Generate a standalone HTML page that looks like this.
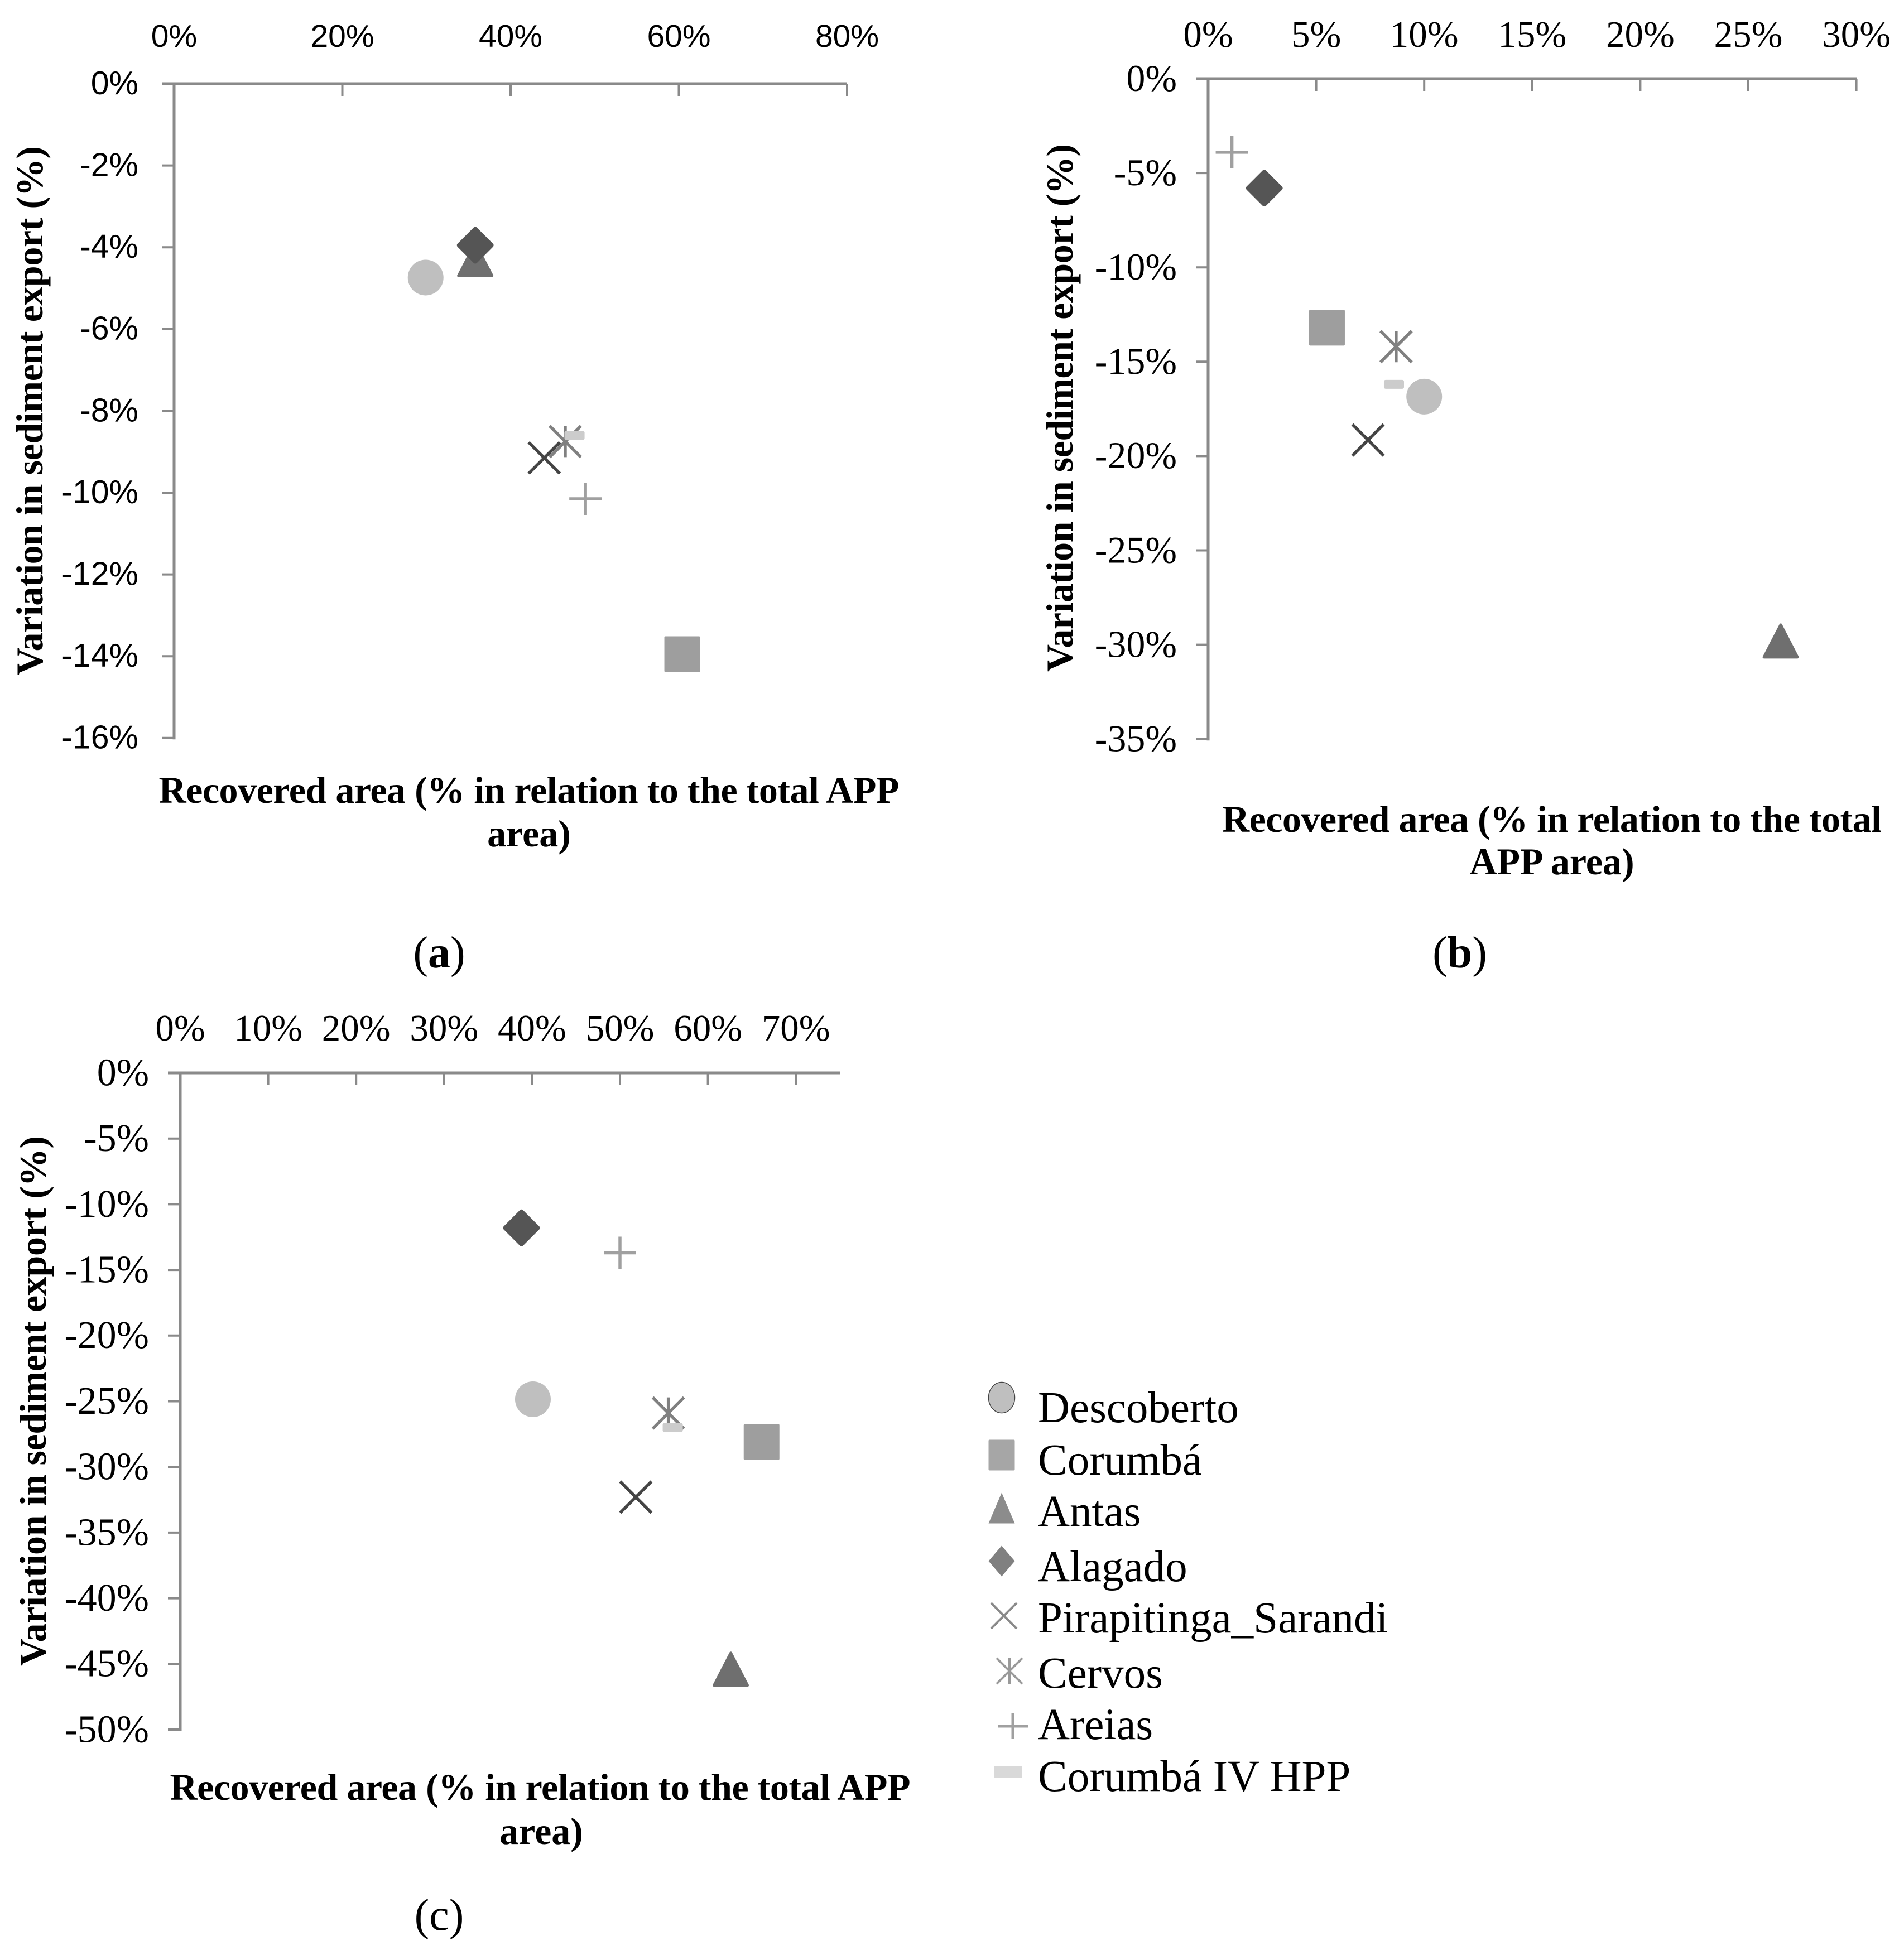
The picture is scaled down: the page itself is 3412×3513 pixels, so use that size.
<!DOCTYPE html>
<html lang="en">
<head>
<meta charset="utf-8">
<title>Recovered area vs. variation in sediment export</title>
<style>
html,body{margin:0;padding:0;background:#fff;}
svg{display:block;}
.ser{font-family:"Liberation Serif",serif;fill:#000;}
.san{font-family:"Liberation Sans",sans-serif;fill:#000;}
.title{font-family:"Liberation Serif",serif;font-weight:bold;font-size:68px;fill:#000;}
.cap{font-family:"Liberation Serif",serif;font-size:80px;fill:#000;}
.leg{font-family:"Liberation Serif",serif;font-size:79px;fill:#000;}
</style>
</head>
<body>
<svg id="figure" xmlns="http://www.w3.org/2000/svg" width="3412" height="3513" viewBox="0 0 3412 3513">
<rect width="3412" height="3513" fill="#ffffff"/>
<g id="panel-a"></g>
<g id="panel-b"></g>
<g id="panel-c"></g>

<text class="title" transform="translate(76,736) rotate(-90)" text-anchor="middle" textLength="948" lengthAdjust="spacing">Variation in sediment export (%)</text>
<text class="title" x="948" y="1439" text-anchor="middle" textLength="1327" lengthAdjust="spacing">Recovered area (% in relation to the total APP</text>
<text class="title" x="948" y="1517" text-anchor="middle">area)</text>
<text class="cap" x="787" y="1734" text-anchor="middle">(<tspan font-weight="bold">a</tspan>)</text>

<text class="title" transform="translate(1922,731) rotate(-90)" text-anchor="middle" textLength="946" lengthAdjust="spacing">Variation in sediment export (%)</text>
<text class="title" x="2781" y="1491" text-anchor="middle" textLength="1182" lengthAdjust="spacing">Recovered area (% in relation to the total</text>
<text class="title" x="2781" y="1567" text-anchor="middle">APP area)</text>
<text class="cap" x="2616" y="1734" text-anchor="middle">(<tspan font-weight="bold">b</tspan>)</text>

<text class="title" transform="translate(82,2511) rotate(-90)" text-anchor="middle" textLength="950" lengthAdjust="spacing">Variation in sediment export (%)</text>
<text class="title" x="968" y="3226" text-anchor="middle" textLength="1327" lengthAdjust="spacing">Recovered area (% in relation to the total APP</text>
<text class="title" x="970" y="3305" text-anchor="middle">area)</text>
<text class="cap" x="787" y="3459" text-anchor="middle">(c)</text>

<g id="legend"></g>
</svg>

<script>
// ---- data ----
const seriesNames = ['Descoberto', 'Corumbá', 'Antas', 'Alagado', 'Pirapitinga_Sarandi', 'Cervos', 'Areias', 'Corumbá IV HPP'];

const panelAX = [29.9, 60.4, 35.8, 35.8, 44.0, 46.5, 48.9, 47.6];
const panelAY = [-4.74, -13.95, -4.3, -3.95, -9.15, -8.75, -10.15, -8.6];
const panelAXTicks = [0, 20, 40, 60, 80];
const panelAYTicks = [0, -2, -4, -6, -8, -10, -12, -14, -16];

const panelBX = [10.0, 5.5, 26.5, 2.6, 7.4, 8.7, 1.1, 8.6];
const panelBY = [-16.85, -13.2, -29.8, -5.8, -19.15, -14.2, -3.9, -16.2];
const panelBXTicks = [0, 5, 10, 15, 20, 25, 30];
const panelBYTicks = [0, -5, -10, -15, -20, -25, -30, -35];

const panelCX = [40.1, 66.1, 62.6, 38.8, 51.8, 55.5, 50.0, 56.0];
const panelCY = [-24.85, -28.1, -45.4, -11.8, -32.3, -25.9, -13.7, -27.0];
const panelCXTicks = [0, 10, 20, 30, 40, 50, 60, 70];
const panelCYTicks = [0, -5, -10, -15, -20, -25, -30, -35, -40, -45, -50];

// ---- helpers ----
const NS = 'http://www.w3.org/2000/svg';
function slug(s) {
  return s.toLowerCase().normalize('NFD').replace(/[\u0300-\u036f]/g, '').replace(/[^a-z0-9]+/g, '-');
}
function shape(parent, tag, attrs) {
  const el = document.createElementNS(NS, tag);
  for (const k in attrs) el.setAttribute(k, attrs[k]);
  parent.appendChild(el);
  return el;
}
function seg(parent, x1, y1, x2, y2, stroke, w) {
  return shape(parent, 'line', { x1: x1, y1: y1, x2: x2, y2: y2, stroke: stroke, 'stroke-width': w });
}
const dataStyle = {
  circle: '#bfbfbf', square: '#9e9e9e', triangle: '#6f6f6f', diamond: '#555555',
  cross: '#444444', star: '#808080', plus: '#a0a0a0', dash: '#cccccc'
};
const kinds = ['circle', 'square', 'triangle', 'diamond', 'cross', 'star', 'plus', 'dash'];

function drawMarker(g, kind, cx, cy, s) {
  const c = s.colors[kind];
  const w = s.w, h = s.h, r = w / 2, v = h / 2;
  if (kind === 'circle') {
    const e = shape(g, 'ellipse', { cx: cx, cy: cy, rx: r, ry: v, fill: c });
    if (s.outline) { e.setAttribute('stroke', '#444444'); e.setAttribute('stroke-width', 1.5); }
  } else if (kind === 'square') {
    shape(g, 'rect', { x: cx - r, y: cy - v, width: w, height: h, fill: c, rx: 2 });
  } else if (kind === 'triangle') {
    shape(g, 'polygon', { points: (cx) + ',' + (cy - v) + ' ' + (cx + r) + ',' + (cy + v) + ' ' + (cx - r) + ',' + (cy + v), fill: c, stroke: c, 'stroke-width': s.round || 0, 'stroke-linejoin': 'round' });
  } else if (kind === 'diamond') {
    shape(g, 'polygon', { points: (cx) + ',' + (cy - v) + ' ' + (cx + r) + ',' + (cy) + ' ' + (cx) + ',' + (cy + v) + ' ' + (cx - r) + ',' + (cy), fill: c, stroke: c, 'stroke-width': s.round || 0, 'stroke-linejoin': 'round' });
  } else if (kind === 'cross') {
    seg(g, cx - r, cy - v, cx + r, cy + v, c, s.line);
    seg(g, cx - r, cy + v, cx + r, cy - v, c, s.line);
  } else if (kind === 'star') {
    seg(g, cx - r, cy - v, cx + r, cy + v, c, s.line);
    seg(g, cx - r, cy + v, cx + r, cy - v, c, s.line);
    seg(g, cx, cy - v, cx, cy + v, c, s.line);
  } else if (kind === 'plus') {
    seg(g, cx - r, cy, cx + r, cy, c, s.line);
    seg(g, cx, cy - v, cx, cy + v, c, s.line);
  } else if (kind === 'dash') {
    shape(g, 'rect', { x: cx - 18, y: cy - 8, width: 36, height: 16, rx: 3, fill: c });
  }
}

function drawPanel(cfg) {
  const root = document.getElementById(cfg.id);
  const sx = v => cfg.x0 + (v / cfg.xUnit) * cfg.xStep;
  const sy = v => cfg.y0 + (-v / cfg.yUnit) * cfg.yStep;
  const axisColor = '#8a8a8a';
  const yEnd = sy(cfg.yTicks[cfg.yTicks.length - 1]);

  const xAxis = seg(root, cfg.x0 - 22, cfg.y0, cfg.xEnd, cfg.y0, axisColor, 5);
  
  
  const yAxis = seg(root, cfg.x0, cfg.y0 - 2.5, cfg.x0, yEnd + 2.5, axisColor, 5);
  
  

  cfg.xTicks.forEach(t => {
    const x = sx(t);
    if (t !== 0) {
      const tick = seg(root, x, cfg.y0, x, cfg.y0 + 22, axisColor, 4);
      
      
    }
    const lab = shape(root, 'text', { x: x, y: cfg.xLabelY, 'text-anchor': 'middle', 'font-size': cfg.fontSize, class: cfg.fontClass });
    lab.textContent = t + '%';
    
    
  });
  cfg.yTicks.forEach(t => {
    const y = sy(t);
    if (t !== 0) {
      const tick = seg(root, cfg.x0 - 22, y, cfg.x0, y, axisColor, 4);
      
      
    }
    const lab = shape(root, 'text', { x: cfg.yLabelX, y: y + cfg.yFontSize * 0.32, 'text-anchor': 'end', 'font-size': cfg.yFontSize, class: cfg.fontClass });
    lab.textContent = t + '%';
    
    
  });

  const style = { w: 64, h: 64, line: 5.5, colors: dataStyle, outline: false };
  seriesNames.forEach((name, i) => {
    const g = shape(root, 'g', {});
    
    
    const kind = kinds[i];
    const size = kind === 'diamond' ? Object.assign({}, style, { w: 58, h: 58, round: 8 })
      : kind === 'triangle' ? Object.assign({}, style, { w: 60, h: 58, round: 5 })
      : kind === 'cross' || kind === 'star' ? Object.assign({}, style, { w: 56, h: 56 })
      : kind === 'plus' ? Object.assign({}, style, { w: 58, h: 58 })
      : style;
    drawMarker(g, kind, sx(cfg.xs[i]), sy(cfg.ys[i]), size);
  });
}

drawPanel({
  id: 'panel-a', x0: 312, y0: 150, xStep: 301.5, xUnit: 20, yStep: 146.6, yUnit: 2, xEnd: 1518,
  xs: panelAX, ys: panelAY, xTicks: panelAXTicks, yTicks: panelAYTicks,
  fontSize: 57, yFontSize: 59, fontClass: 'san', xLabelY: 84, yLabelX: 248
});
drawPanel({
  id: 'panel-b', x0: 2165, y0: 141, xStep: 193.6, xUnit: 5, yStep: 169.1, yUnit: 5, xEnd: 3327,
  xs: panelBX, ys: panelBY, xTicks: panelBXTicks, yTicks: panelBYTicks,
  fontSize: 67, yFontSize: 68, fontClass: 'ser', xLabelY: 84, yLabelX: 2109
});
drawPanel({
  id: 'panel-c', x0: 323, y0: 1923, xStep: 157.6, xUnit: 10, yStep: 117.7, yUnit: 5, xEnd: 1506,
  xs: panelCX, ys: panelCY, xTicks: panelCXTicks, yTicks: panelCYTicks,
  fontSize: 67, yFontSize: 70, fontClass: 'ser', xLabelY: 1865, yLabelX: 267
});

// ---- legend ----
const legendBaselines = [2549, 2643, 2735, 2834, 2926, 3025, 3117, 3210];
const legendMarkerX = [1795, 1795, 1795, 1795, 1799, 1809, 1815, 1807];
const legendMarkerY = [2505, 2608, 2703, 2798, 2896, 2995, 3094, 3176];
const legendRoot = document.getElementById('legend');
const legendColors = {
  circle: '#bfbfbf', square: '#a6a6a6', triangle: '#8c8c8c', diamond: '#808080',
  cross: '#8a8a8a', star: '#999999', plus: '#a0a0a0', dash: '#d9d9d9'
};
seriesNames.forEach((name, i) => {
  const entry = shape(legendRoot, 'g', {});
  
  
  const kind = kinds[i];
  const s = (kind === 'cross' || kind === 'star')
    ? { w: 46, h: 46, line: 4, colors: legendColors, outline: false }
    : kind === 'plus'
      ? { w: 54, h: 46, line: 5, colors: legendColors, outline: false }
      : { w: 47, h: 55, line: 4, colors: legendColors, outline: kind === 'circle' };
  if (kind === 'dash') {
    const r = shape(entry, 'rect', { x: legendMarkerX[i] - 25, y: legendMarkerY[i] - 10, width: 50, height: 20, fill: legendColors.dash });
    
    
  } else {
    drawMarker(entry, kind, legendMarkerX[i], legendMarkerY[i], s);
  }
  const t = shape(entry, 'text', { x: 1860, y: legendBaselines[i], class: 'leg' });
  t.textContent = name;
  
  
});
</script>
</body>
</html>
